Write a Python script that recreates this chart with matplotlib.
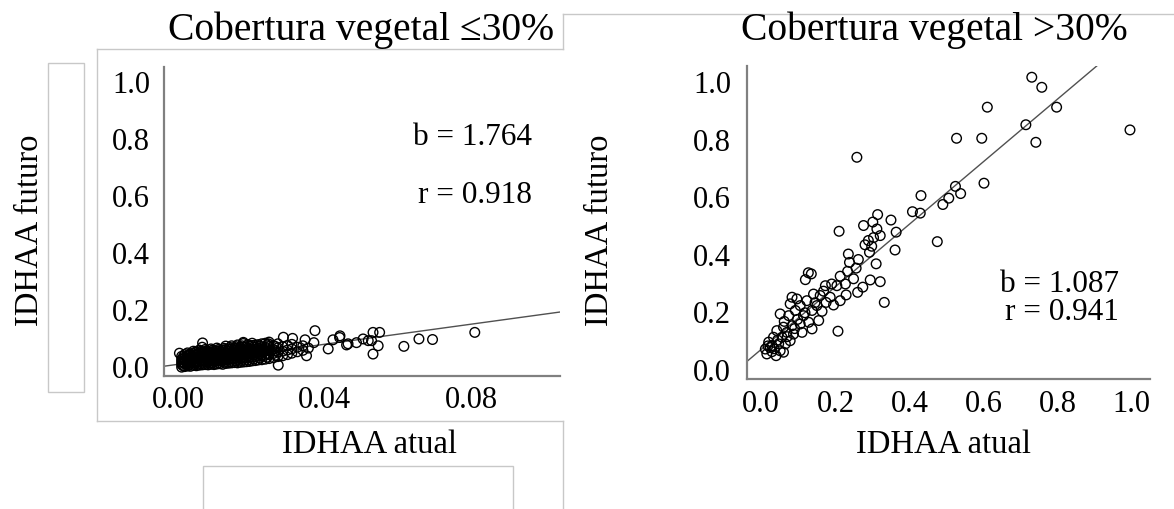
import matplotlib.pyplot as plt
from matplotlib.lines import Line2D
from matplotlib.patches import Rectangle

plt.rcParams["font.family"] = ["Liberation Serif", "DejaVu Serif"]

W, H = 1174, 510

# Cobertura vegetal <=30% (left panel), IDHAA atual vs IDHAA futuro
low_x = [
    0.0010, 0.0010, 0.0010, 0.0010, 0.0010,
    0.0018, 0.0018, 0.0018, 0.0018, 0.0018,
    0.0026, 0.0026, 0.0026, 0.0026, 0.0026, 0.0026,
    0.0034, 0.0034, 0.0034, 0.0034, 0.0034,
    0.0042, 0.0042, 0.0042, 0.0042, 0.0042, 0.0042,
    0.0050, 0.0050, 0.0050, 0.0050, 0.0050, 0.0050,
    0.0058, 0.0058, 0.0058, 0.0058, 0.0058, 0.0058,
    0.0066, 0.0066, 0.0066, 0.0066, 0.0066, 0.0066,
    0.0074, 0.0074, 0.0074, 0.0074, 0.0074, 0.0074,
    0.0082, 0.0082, 0.0082, 0.0082, 0.0082,
    0.0090, 0.0090, 0.0090, 0.0090, 0.0090, 0.0090,
    0.0098, 0.0098, 0.0098, 0.0098, 0.0098,
    0.0106, 0.0106, 0.0106, 0.0106, 0.0106, 0.0106,
    0.0114, 0.0114, 0.0114, 0.0114, 0.0114,
    0.0122, 0.0122, 0.0122, 0.0122, 0.0122,
    0.0130, 0.0130, 0.0130, 0.0130, 0.0130, 0.0130,
    0.0138, 0.0138, 0.0138, 0.0138, 0.0138,
    0.0146, 0.0146, 0.0146, 0.0146, 0.0146, 0.0146,
    0.0154, 0.0154, 0.0154, 0.0154, 0.0154,
    0.0162, 0.0162, 0.0162, 0.0162, 0.0162, 0.0162,
    0.0170, 0.0170, 0.0170, 0.0170, 0.0170,
    0.0178, 0.0178, 0.0178, 0.0178, 0.0178, 0.0178,
    0.0186, 0.0186, 0.0186, 0.0186, 0.0186,
    0.0194, 0.0194, 0.0194, 0.0194, 0.0194,
    0.0202, 0.0202, 0.0202, 0.0202, 0.0202, 0.0202,
    0.0210, 0.0210, 0.0210, 0.0210, 0.0210,
    0.0218, 0.0218, 0.0218, 0.0218, 0.0218,
    0.0228, 0.0228, 0.0228, 0.0228, 0.0228,
    0.0238, 0.0238, 0.0238, 0.0238, 0.0238,
    0.0248, 0.0248, 0.0248, 0.0248, 0.0248,
    0.0260, 0.0260, 0.0260, 0.0260,
    0.0272, 0.0272, 0.0272, 0.0272,
    0.0285, 0.0285, 0.0285,
    0.0298, 0.0298, 0.0298,
    0.0310, 0.0310, 0.0310,
    0.0325, 0.0325, 0.0340, 0.0340, 0.0355, 0.0370,
    0.0014, 0.0014, 0.0014, 0.0014,
    0.0030, 0.0030, 0.0030, 0.0030, 0.0030,
    0.0046, 0.0046, 0.0046, 0.0046, 0.0046,
    0.0062, 0.0062, 0.0062, 0.0062, 0.0062,
    0.0078, 0.0078, 0.0078, 0.0078, 0.0078,
    0.0094, 0.0094, 0.0094, 0.0094, 0.0094,
    0.0110, 0.0110, 0.0110, 0.0110, 0.0110,
    0.0126, 0.0126, 0.0126, 0.0126, 0.0126,
    0.0142, 0.0142, 0.0142, 0.0142, 0.0142,
    0.0158, 0.0158, 0.0158, 0.0158, 0.0158,
    0.0174, 0.0174, 0.0174, 0.0174, 0.0174,
    0.0190, 0.0190, 0.0190, 0.0190, 0.0190,
    0.0206, 0.0206, 0.0206, 0.0206,
    0.0223, 0.0223, 0.0223, 0.0223,
    0.0243, 0.0243, 0.0243, 0.0243,
    0.0266, 0.0266, 0.0266,
    0.0004, 0.0067, 0.0178, 0.0246, 0.0287, 0.0273, 0.0312, 0.0350,
    0.0346, 0.0373, 0.0422, 0.0409, 0.0440, 0.0463, 0.0441, 0.0459,
    0.0486, 0.0504, 0.0518, 0.0531, 0.0549, 0.0545, 0.0531, 0.0527,
    0.0615, 0.0656, 0.0693, 0.0808,
]
low_y = [
    -0.004, 0.006, 0.015, 0.024, 0.034,
    -0.002, 0.009, 0.019, 0.028, 0.040,
    0.000, 0.008, 0.017, 0.027, 0.036, 0.046,
    -0.001, 0.010, 0.021, 0.031, 0.042,
    0.002, 0.012, 0.022, 0.033, 0.044, 0.052,
    0.001, 0.011, 0.020, 0.030, 0.040, 0.049,
    0.003, 0.014, 0.024, 0.035, 0.046, 0.056,
    0.004, 0.013, 0.023, 0.034, 0.044, 0.066,
    0.005, 0.016, 0.027, 0.038, 0.049, 0.058,
    0.004, 0.015, 0.026, 0.037, 0.047,
    0.006, 0.017, 0.028, 0.039, 0.050, 0.060,
    0.005, 0.016, 0.027, 0.038, 0.051,
    0.007, 0.018, 0.029, 0.041, 0.053, 0.063,
    0.008, 0.019, 0.031, 0.042, 0.054,
    0.006, 0.018, 0.030, 0.043, 0.056,
    0.009, 0.021, 0.033, 0.045, 0.058, 0.070,
    0.010, 0.022, 0.034, 0.046, 0.059,
    0.011, 0.024, 0.036, 0.048, 0.061, 0.071,
    0.012, 0.025, 0.037, 0.050, 0.062,
    0.011, 0.023, 0.036, 0.049, 0.063, 0.074,
    0.013, 0.026, 0.039, 0.052, 0.065,
    0.014, 0.027, 0.040, 0.053, 0.066, 0.079,
    0.015, 0.029, 0.042, 0.055, 0.068,
    0.016, 0.030, 0.043, 0.057, 0.070,
    0.018, 0.031, 0.045, 0.058, 0.072, 0.080,
    0.019, 0.033, 0.046, 0.060, 0.073,
    0.021, 0.035, 0.048, 0.062, 0.075,
    0.022, 0.036, 0.050, 0.064, 0.078,
    0.024, 0.038, 0.052, 0.066, 0.080,
    0.026, 0.041, 0.055, 0.069, 0.084,
    0.029, 0.044, 0.058, 0.072,
    0.033, 0.049, 0.064, 0.078,
    0.036, 0.052, 0.068,
    0.040, 0.056, 0.072,
    0.045, 0.060, 0.076,
    0.050, 0.066, 0.055, 0.071, 0.063, 0.082,
    0.001, 0.011, 0.020, 0.030,
    0.004, 0.013, 0.023, 0.033, 0.041,
    0.006, 0.016, 0.027, 0.038, 0.048,
    0.008, 0.019, 0.029, 0.040, 0.051,
    0.010, 0.021, 0.032, 0.043, 0.054,
    0.011, 0.022, 0.033, 0.045, 0.056,
    0.012, 0.024, 0.035, 0.047, 0.058,
    0.013, 0.025, 0.037, 0.050, 0.062,
    0.016, 0.028, 0.040, 0.053, 0.065,
    0.018, 0.030, 0.043, 0.056, 0.068,
    0.020, 0.033, 0.046, 0.059, 0.071,
    0.022, 0.036, 0.049, 0.062, 0.075,
    0.025, 0.039, 0.052, 0.066,
    0.028, 0.042, 0.056, 0.070,
    0.031, 0.045, 0.060, 0.074,
    0.038, 0.053, 0.068,
    0.045, 0.081, 0.083, 0.078, 0.101, 0.003, 0.097, 0.036,
    0.092, 0.124, 0.092, 0.060, 0.100, 0.078, 0.106, 0.074,
    0.082, 0.095, 0.089, 0.118, 0.118, 0.071, 0.042, 0.089,
    0.069, 0.095, 0.093, 0.118,
]

# Cobertura vegetal >30% (right panel)
high_x = [
    0.730, 0.757, 0.797, 0.610, 0.714, 0.741, 0.527, 0.595, 0.995, 0.258,
    0.601, 0.524, 0.538, 0.506, 0.490, 0.431, 0.408, 0.429, 0.350, 0.314,
    0.276, 0.301, 0.364, 0.210, 0.312, 0.321, 0.303, 0.289, 0.280, 0.298,
    0.292, 0.361, 0.475, 0.235, 0.262, 0.238, 0.310, 0.256, 0.233, 0.213,
    0.119, 0.135, 0.127, 0.190, 0.173, 0.204, 0.227, 0.249, 0.294, 0.321,
    0.274, 0.260, 0.332, 0.229, 0.213, 0.186, 0.159, 0.141, 0.175, 0.195,
    0.150, 0.137, 0.164, 0.123, 0.105, 0.096, 0.083, 0.078, 0.092, 0.051,
    0.074, 0.114, 0.155, 0.128, 0.105, 0.083, 0.060, 0.137, 0.110, 0.087,
    0.069, 0.042, 0.056, 0.033, 0.078, 0.065, 0.047, 0.029, 0.020, 0.011,
    0.029, 0.051, 0.015, 0.040, 0.060, 0.024, 0.207,
    0.018, 0.035, 0.044, 0.070, 0.098, 0.118, 0.145, 0.168, 0.090, 0.062,
]
high_y = [
    1.013, 0.978, 0.909, 0.909, 0.848, 0.787, 0.801, 0.801, 0.830, 0.735,
    0.645, 0.634, 0.609, 0.593, 0.571, 0.602, 0.546, 0.541, 0.517, 0.536,
    0.498, 0.510, 0.475, 0.478, 0.486, 0.463, 0.456, 0.446, 0.431, 0.426,
    0.405, 0.413, 0.442, 0.399, 0.380, 0.370, 0.365, 0.350, 0.339, 0.322,
    0.310, 0.330, 0.334, 0.295, 0.289, 0.289, 0.295, 0.313, 0.309, 0.303,
    0.284, 0.266, 0.231, 0.257, 0.237, 0.249, 0.255, 0.260, 0.231, 0.222,
    0.220, 0.203, 0.200, 0.237, 0.220, 0.243, 0.249, 0.226, 0.203, 0.191,
    0.185, 0.185, 0.168, 0.162, 0.156, 0.150, 0.145, 0.139, 0.127, 0.121,
    0.127, 0.133, 0.110, 0.110, 0.098, 0.087, 0.087, 0.081, 0.093, 0.069,
    0.060, 0.063, 0.052, 0.046, 0.058, 0.074, 0.131,
    0.080, 0.070, 0.100, 0.112, 0.172, 0.195, 0.230, 0.270, 0.140, 0.165,
]

# fitted lines (slope b, intercept)
low_fit = (1.764, 0.006)
high_fit = (1.087, 0.068)

y_ticks = [0.0, 0.2, 0.4, 0.6, 0.8, 1.0]
low_xticks = [0.00, 0.04, 0.08]
high_xticks = [0.0, 0.2, 0.4, 0.6, 0.8, 1.0]


def fx(px):
    return px / W


def fy(py):
    return 1 - py / H


def style_axes(ax, xpad, ypad):
    ax.set_facecolor("none")
    for side in ["top", "right"]:
        ax.spines[side].set_visible(False)
    for side in ["left", "bottom"]:
        ax.spines[side].set_color("#808080")
        ax.spines[side].set_linewidth(1.6)
    ax.tick_params(axis="both", length=0, labelsize=22)
    ax.tick_params(axis="x", pad=xpad)
    ax.tick_params(axis="y", pad=ypad)


def scatter_fit(ax, xs, ys, fit, xlim):
    ax.scatter(xs, ys, s=48, facecolors="none", edgecolors="black",
               linewidths=1.0, zorder=3)
    b, a = fit
    ax.plot(xlim, [a + b * xlim[0], a + b * xlim[1]], color="#505050",
            lw=1.0, zorder=2)


fig = plt.figure(figsize=(W / 100, H / 100), dpi=100)

# grey outlines of the text boxes from the source document
box_color = "#c8c8c8"
fig.add_artist(Line2D([fx(563), fx(1174)], [fy(15), fy(15)], color=box_color, lw=1))
fig.add_artist(Line2D([fx(563), fx(563)], [fy(15), fy(50)], color=box_color, lw=1))
fig.add_artist(Line2D([fx(563), fx(563)], [fy(422), fy(510)], color=box_color, lw=1))
fig.add_artist(Line2D([fx(97), fx(563)], [fy(50), fy(50)], color=box_color, lw=1))
fig.add_artist(Line2D([fx(97), fx(97)], [fy(50), fy(422)], color=box_color, lw=1))
fig.add_artist(Line2D([fx(97), fx(563)], [fy(422), fy(422)], color=box_color, lw=1))
fig.add_artist(Rectangle((fx(48), fy(393)), fx(84) - fx(48), fy(64) - fy(393),
                         fill=False, edgecolor=box_color, lw=1))
fig.add_artist(Rectangle((fx(203), fy(520)), fx(513) - fx(203), fy(467) - fy(520),
                         fill=False, edgecolor=box_color, lw=1))

# left panel
ax1 = fig.add_axes([fx(164), fy(377), fx(560) - fx(164), fy(68) - fy(377)])
low_xlim = (-0.0038, 0.104)
scatter_fit(ax1, low_x, low_y, low_fit, low_xlim)
ax1.set_xlim(low_xlim)
ax1.set_ylim(-0.035, 1.049)
ax1.set_xticks(low_xticks, [f"{v:.2f}" for v in low_xticks])
ax1.set_yticks(y_ticks, [f"{v:.1f}" for v in y_ticks])
style_axes(ax1, 6.5, 10)

# right panel
ax2 = fig.add_axes([fx(747), fy(380), fx(1150) - fx(747), fy(67) - fy(380)])
high_xlim = (-0.0385, 1.049)
scatter_fit(ax2, high_x, high_y, high_fit, high_xlim)
ax2.set_xlim(high_xlim)
ax2.set_ylim(-0.035, 1.052)
ax2.set_xticks(high_xticks, [f"{v:.1f}" for v in high_xticks])
ax2.set_yticks(y_ticks, [f"{v:.1f}" for v in y_ticks])
style_axes(ax2, 7, 11.5)

# titles and labels
fig.text(fx(361), fy(40), "Cobertura vegetal ≤30%", ha="center", va="baseline", fontsize=28.5)
fig.text(fx(934), fy(40), "Cobertura vegetal >30%", ha="center", va="baseline", fontsize=28.5)
fig.text(fx(370), fy(445), "IDHAA atual", ha="center", va="center", fontsize=23.5)
fig.text(fx(943), fy(445), "IDHAA atual", ha="center", va="center", fontsize=23.5)
fig.text(fx(30), fy(230), "IDHAA futuro", rotation=90, ha="center", va="center", fontsize=23.5)
fig.text(fx(600), fy(230), "IDHAA futuro", rotation=90, ha="center", va="center", fontsize=23.5)

fig.text(fx(532), fy(138), "b = 1.764", ha="right", va="center", fontsize=22.5)
fig.text(fx(532), fy(196), "r = 0.918", ha="right", va="center", fontsize=22.5)
fig.text(fx(1119), fy(285), "b = 1.087", ha="right", va="center", fontsize=22.5)
fig.text(fx(1119), fy(313), "r = 0.941", ha="right", va="center", fontsize=22.5)

fig.savefig("out.png", dpi=100, facecolor="white")
plt.close(fig)
